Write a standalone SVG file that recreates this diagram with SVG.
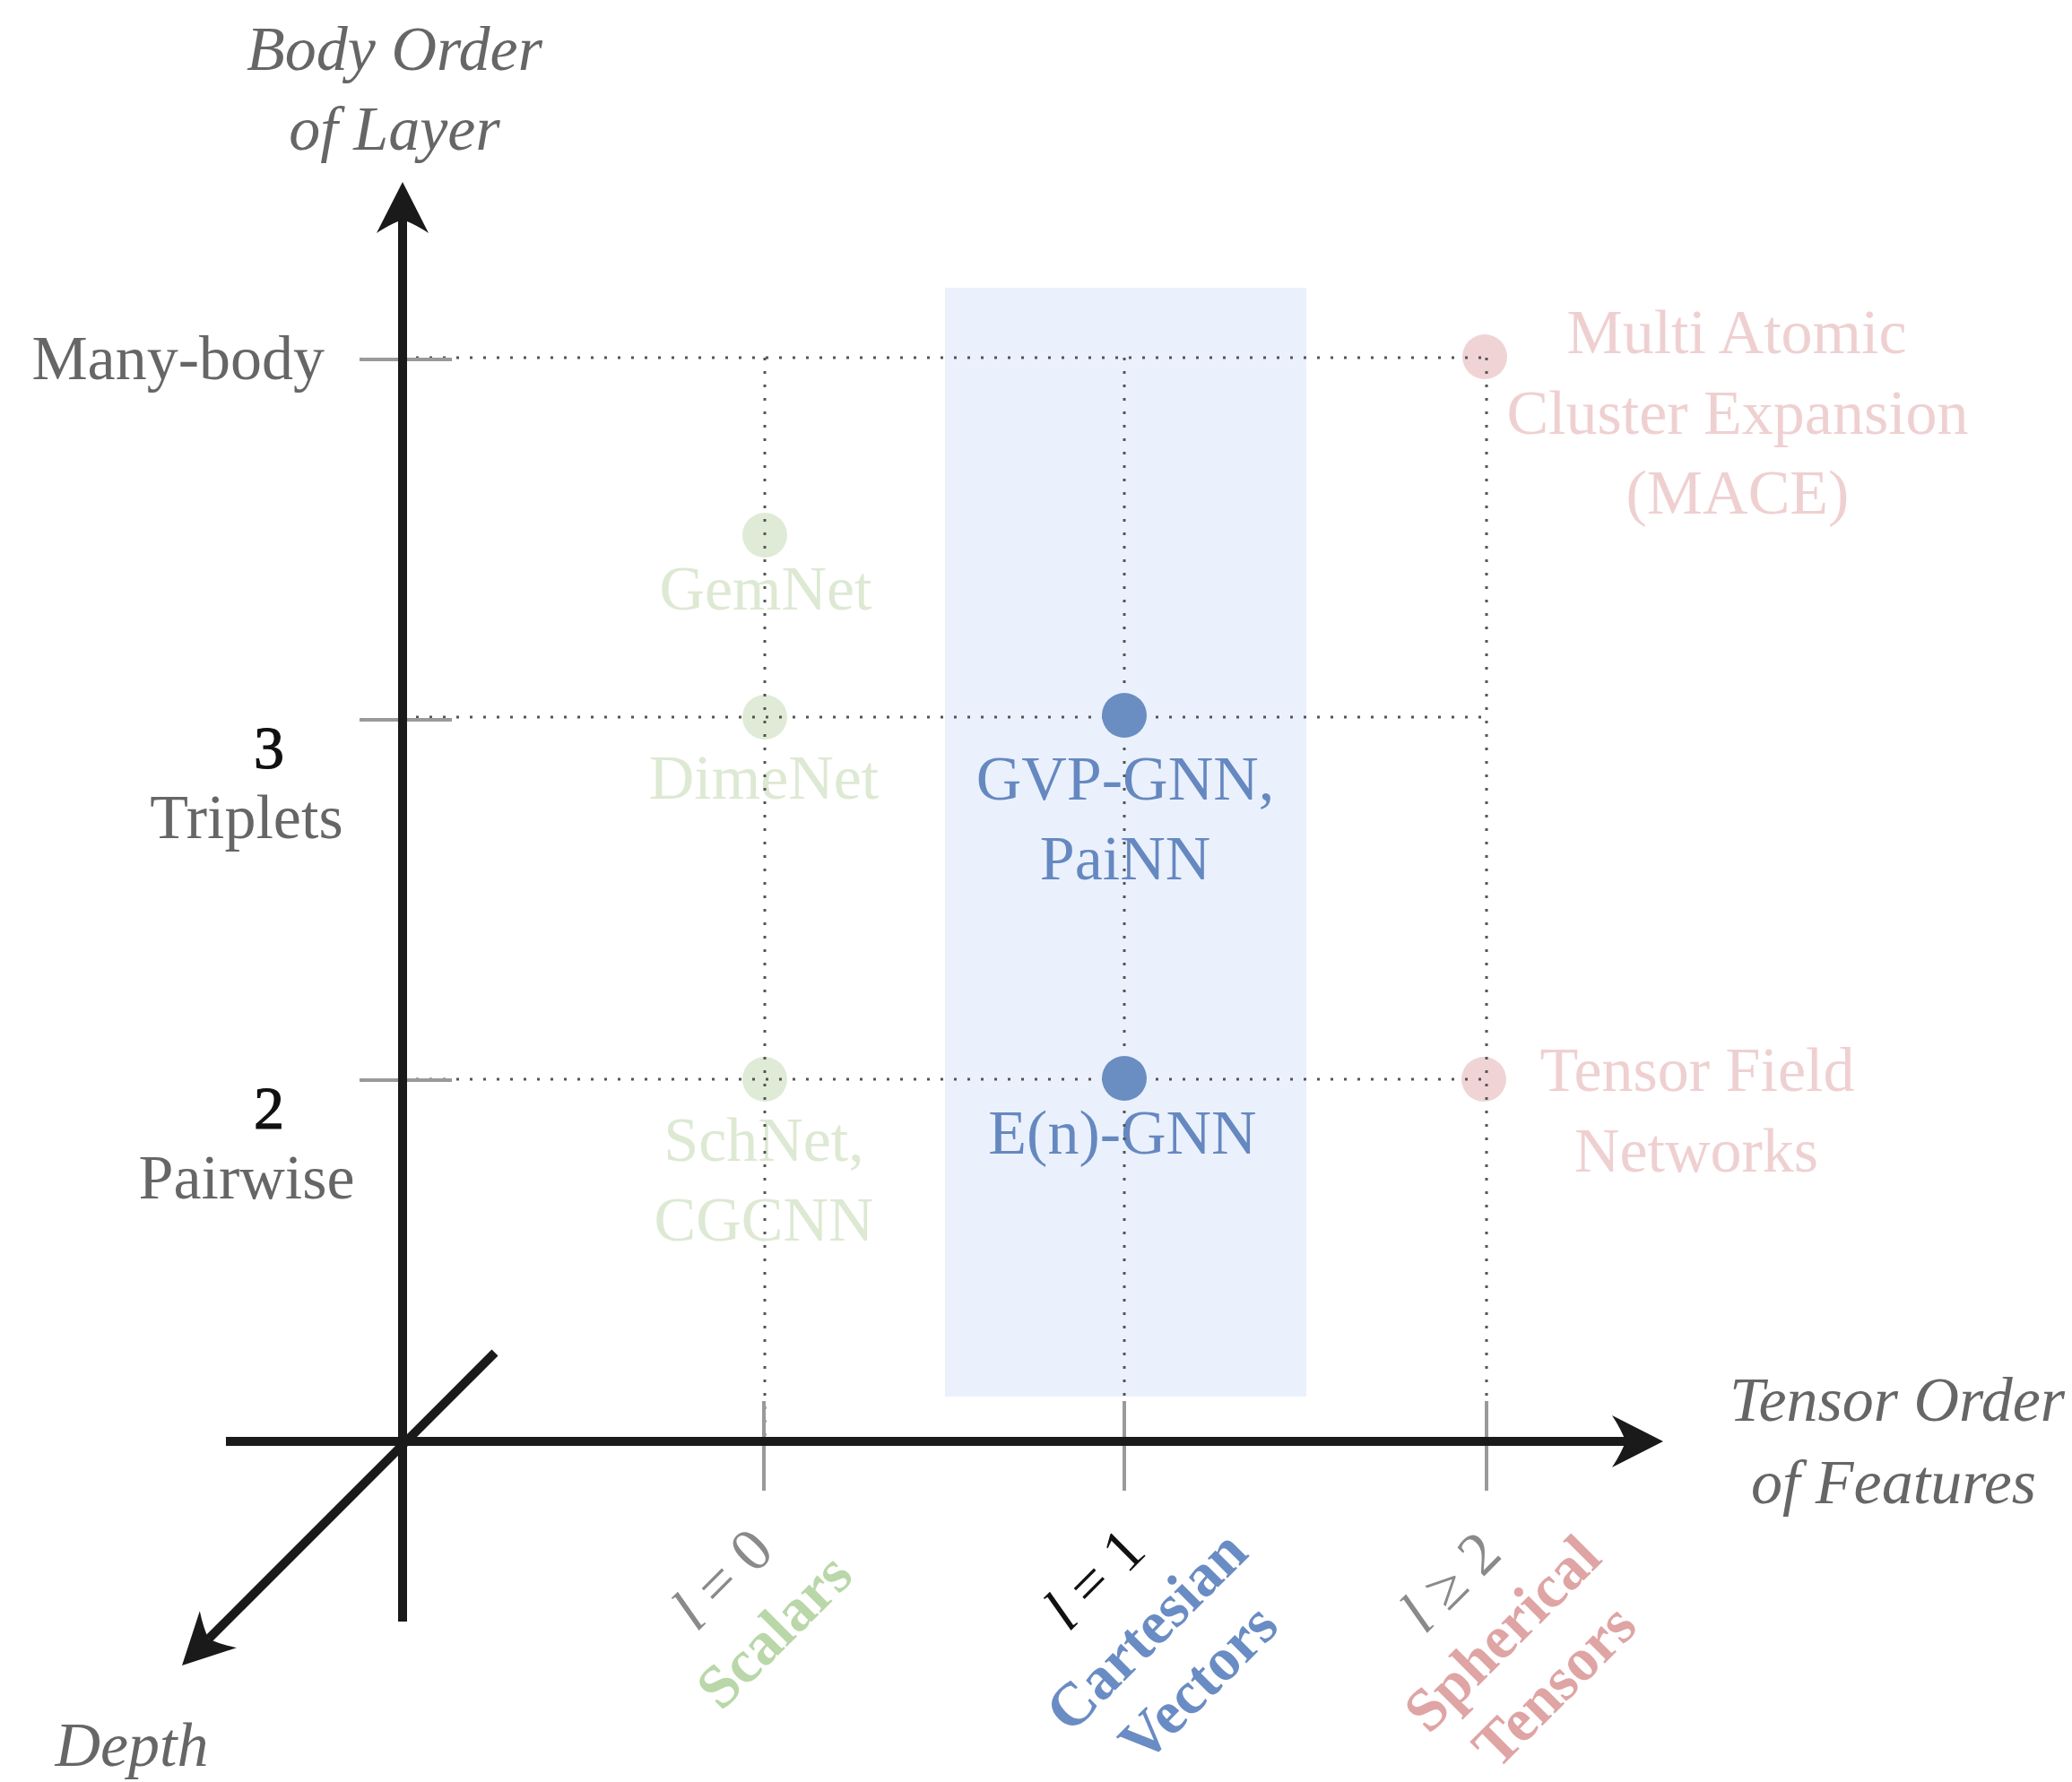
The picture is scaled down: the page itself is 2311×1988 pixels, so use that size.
<svg xmlns="http://www.w3.org/2000/svg" width="2311" height="1988" viewBox="0 0 2311 1988">
  <defs>
    <style>
      text { font-family: "Liberation Serif", "Times New Roman", serif; font-size: 70px; }
      .mid { text-anchor: middle; }
      .axis-title { font-style: italic; fill: #666666; text-anchor: middle; }
      .level { fill: #666666; }
      .num { fill: #111111; font-size: 68px; stroke: #111111; stroke-width: 1.2; text-anchor: middle; }
      .axis { stroke: #1a1a1a; stroke-width: 10; fill: none; }
      .tick { stroke: #9a9a9a; stroke-width: 4; }
      .guide { stroke: #555555; stroke-width: 3; stroke-dasharray: 3 12; fill: none; }
      .g-dot { fill: #dfebd6; }
      .g-txt { fill: #dde9d3; }
      .b-dot { fill: #6a8dc2; }
      .b-txt { fill: #6688c0; }
      .r-dot { fill: #f0d4d5; }
      .r-txt { fill: #efd0d1; }
      .rot { font-size: 68px; text-anchor: middle; }
      .rot-bold { font-weight: bold; }
    </style>
    <marker id="arrow" viewBox="-20 -32 66 64" refX="0" refY="0" markerWidth="66" markerHeight="64" markerUnits="userSpaceOnUse" orient="auto">
      <path d="M42,0 L-15,-29 Q-4,-12 0,0 Q-4,12 -15,29 Z" fill="#1a1a1a"/>
    </marker>
  </defs>

  <rect width="2311" height="1988" fill="#ffffff"/>

  <!-- highlighted column for l = 1 -->
  <rect id="vector-band" x="1054" y="321" width="403" height="1237" fill="#eaf1fc"/>

  <!-- faded node labels and markers (behind guides) -->
  <g id="node-gemnet">
    <circle class="g-dot" cx="853" cy="597" r="25"/>
    <text class="g-txt mid" x="854" y="680">GemNet</text>
  </g>
  <g id="node-dimenet">
    <circle class="g-dot" cx="853" cy="800" r="25"/>
    <text class="g-txt mid" x="852" y="891">DimeNet</text>
  </g>
  <g id="node-schnet">
    <circle class="g-dot" cx="853" cy="1204" r="25"/>
    <text class="g-txt mid" x="852" y="1295">SchNet,</text>
    <text class="g-txt mid" x="852" y="1384">CGCNN</text>
  </g>
  <g id="node-mace">
    <circle class="r-dot" cx="1656" cy="398" r="25"/>
    <text class="r-txt mid" x="1937" y="394">Multi Atomic</text>
    <text class="r-txt mid" x="1938" y="484">Cluster Expansion</text>
    <text class="r-txt mid" x="1938" y="573">(MACE)</text>
  </g>
  <g id="node-tfn">
    <circle class="r-dot" cx="1655" cy="1204" r="25"/>
    <text class="r-txt mid" x="1893" y="1217">Tensor Field</text>
    <text class="r-txt mid" x="1892" y="1307">Networks</text>
  </g>
  <g id="node-gvp-text">
    <text class="b-txt mid" x="1255" y="892">GVP-GNN,</text>
    <text class="b-txt mid" x="1255" y="981">PaiNN</text>
  </g>
  <g id="node-egnn-text">
    <text class="b-txt mid" x="1252" y="1287">E(n)-GNN</text>
  </g>

  <!-- connectors: axes, ticks and dotted guides -->
  <g id="connectors">
    <g id="guides">
      <line class="guide" x1="449" y1="399" x2="1656" y2="399"/>
      <line class="guide" x1="449" y1="800" x2="1658" y2="800"/>
      <line class="guide" x1="449" y1="1204" x2="1658" y2="1204"/>
      <line class="guide" x1="853" y1="399" x2="853" y2="1608"/>
      <line class="guide" x1="1254" y1="399" x2="1254" y2="1608"/>
      <line class="guide" x1="1658" y1="399" x2="1658" y2="1608"/>
    </g>
    <g id="ticks">
      <line class="tick" x1="401" y1="401" x2="504" y2="401"/>
      <line class="tick" x1="401" y1="803" x2="504" y2="803"/>
      <line class="tick" x1="401" y1="1205" x2="504" y2="1205"/>
      <line class="tick" x1="852" y1="1563" x2="852" y2="1663"/>
      <line class="tick" x1="1254" y1="1563" x2="1254" y2="1663"/>
      <line class="tick" x1="1658" y1="1563" x2="1658" y2="1663"/>
    </g>
    <g id="axes">
      <line class="axis" x1="449" y1="1809" x2="449" y2="245" marker-end="url(#arrow)"/>
      <line class="axis" x1="252" y1="1608" x2="1813" y2="1608" marker-end="url(#arrow)"/>
      <line class="axis" x1="552" y1="1509" x2="232.7" y2="1828.3" marker-end="url(#arrow)"/>
    </g>
  </g>

  <!-- highlighted nodes on top of guides -->
  <g id="node-gvp">
    <circle class="b-dot" cx="1254" cy="798" r="25"/>
  </g>
  <g id="node-egnn">
    <circle class="b-dot" cx="1254" cy="1203" r="25"/>
  </g>

  <!-- axis titles -->
  <g id="label-body-order">
    <text class="axis-title" x="440" y="78">Body Order</text>
    <text class="axis-title" x="440" y="167">of Layer</text>
  </g>
  <g id="label-tensor-order">
    <text class="axis-title" x="2116" y="1585">Tensor Order</text>
    <text class="axis-title" x="2112" y="1677">of Features</text>
  </g>
  <g id="label-depth">
    <text class="axis-title" x="147" y="1970">Depth</text>
  </g>

  <!-- body order levels -->
  <g id="level-many">
    <text class="level" x="362" y="423" text-anchor="end">Many-body</text>
  </g>
  <g id="level-3">
    <text class="num" x="300" y="857">3</text>
    <text class="level mid" x="275" y="935">Triplets</text>
  </g>
  <g id="level-2">
    <text class="num" x="300" y="1259">2</text>
    <text class="level mid" x="275" y="1337">Pairwise</text>
  </g>

  <!-- tensor order categories -->
  <g id="cat-scalars" transform="translate(805,1761) rotate(-45)">
    <text class="rot" x="0" y="23" fill="#8a8a8a"><tspan font-style="italic">l</tspan> = 0</text>
    <text class="rot rot-bold" x="0" y="105" fill="#b9d7a8">Scalars</text>
  </g>
  <g id="cat-vectors" transform="translate(1220,1761) rotate(-45)">
    <text class="rot" x="0" y="23" fill="#111111"><tspan font-style="italic">l</tspan> = 1</text>
    <text class="rot rot-bold" x="0" y="105" fill="#6a8cc4">Cartesian</text>
    <text class="rot rot-bold" x="0" y="187" fill="#6a8cc4">Vectors</text>
  </g>
  <g id="cat-tensors" transform="translate(1617,1764) rotate(-45)">
    <text class="rot" x="0" y="23" fill="#8a8a8a"><tspan font-style="italic">l</tspan> ≥ 2</text>
    <text class="rot rot-bold" x="0" y="105" fill="#dfa4a4">Spherical</text>
    <text class="rot rot-bold" x="0" y="187" fill="#dfa4a4">Tensors</text>
  </g>
</svg>
